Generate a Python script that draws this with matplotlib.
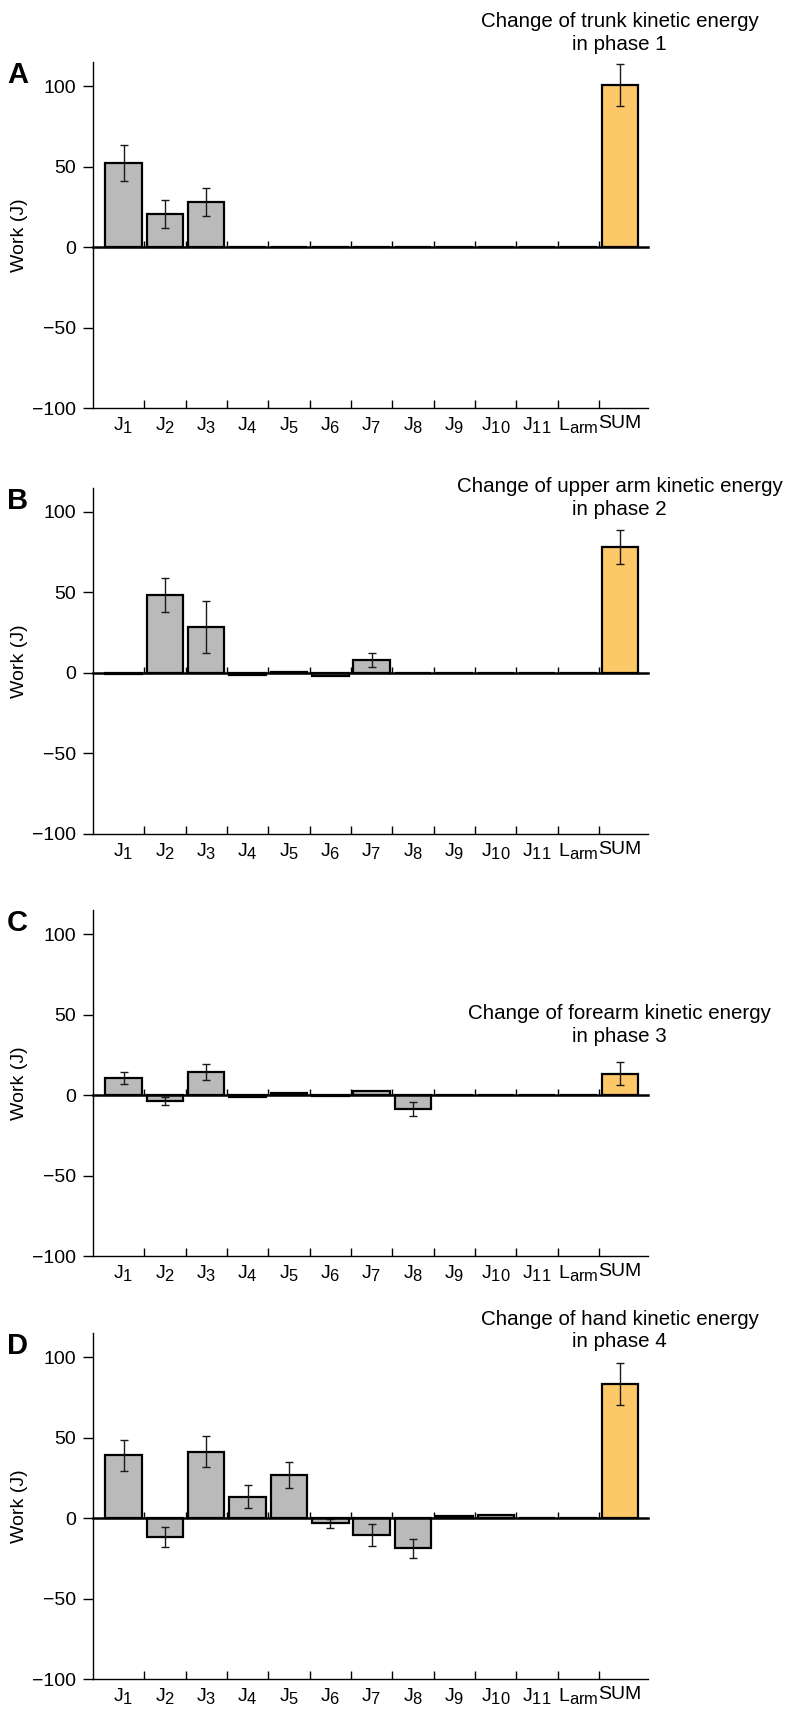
"""Joint work contributions to segment kinetic energy change, phases 1-4."""

import matplotlib
matplotlib.use("Agg")
import matplotlib._mathtext as mathtext_internals
import matplotlib.pyplot as plt
import numpy as np

plt.rcParams["font.family"] = ["Liberation Sans", "DejaVu Sans"]
plt.rcParams["mathtext.fontset"] = "custom"
plt.rcParams["mathtext.rm"] = "Liberation Sans"
plt.rcParams["mathtext.default"] = "regular"
# subscripts in the source figure are almost full size
mathtext_internals.SHRINK_FACTOR = 0.85

categories = ["J$_1$", "J$_2$", "J$_3$", "J$_4$", "J$_5$", "J$_6$", "J$_7$",
              "J$_8$", "J$_9$", "J$_{10}$", "J$_{11}$", "L$_{arm}$", "SUM"]

panel_letters = ["A", "B", "C", "D"]
notes = [
    "Change of trunk kinetic energy\nin phase 1",
    "Change of upper arm kinetic energy\nin phase 2",
    "Change of forearm kinetic energy\nin phase 3",
    "Change of hand kinetic energy\nin phase 4",
]

# mean work (J) per category, last value is SUM
work_a = [52.2, 20.5, 28.3, 0, 0, 0, 0, 0, 0, 0, 0, 0, 100.8]
work_b = [-0.5, 48.6, 28.7, -1.5, 0.8, -2.0, 8.3, 0, 0, 0, 0, 0, 78.2]
work_c = [10.4, -3.9, 14.4, -1.5, 1.0, -0.5, 2.6, -8.9, 0, 0, 0, 0, 13.2]
work_d = [38.9, -11.9, 41.3, 13.3, 26.8, -3.4, -10.3, -18.8, 1.0, 2.0, 0, 0, 83.0]

# standard deviations (nan = no error bar)
sd_a = [11.2, 8.7, 8.7, np.nan, np.nan, np.nan, np.nan, np.nan, np.nan, np.nan, np.nan, np.nan, 13.2]
sd_b = [np.nan, 10.6, 16.0, np.nan, np.nan, np.nan, 4.4, np.nan, np.nan, np.nan, np.nan, np.nan, 10.8]
sd_c = [3.8, 2.4, 5.1, np.nan, np.nan, np.nan, np.nan, 4.4, np.nan, np.nan, np.nan, np.nan, 7.1]
sd_d = [9.8, 6.2, 9.7, 6.9, 8.2, 2.7, 6.8, 5.8, np.nan, np.nan, np.nan, np.nan, 13.1]

works = [work_a, work_b, work_c, work_d]
sds = [sd_a, sd_b, sd_c, sd_d]
note_offsets = [7.0, 7.5, 12.0, 8.5]  # points above the SUM error bar

gray = "#bababa"
orange = "#fdc867"

# axes boxes in figure fractions
left, width = 0.1177, 0.7029
bottoms = [0.7614, 0.5126, 0.2659, 0.0187]
height = 0.2023

fig = plt.figure(figsize=(7.9, 17.11), dpi=100)

x = np.arange(len(categories))
bounds = x[:-1] + 0.5
colors = [gray] * (len(categories) - 1) + [orange]

for k in range(4):
    ax = fig.add_axes([left, bottoms[k], width, height])
    vals = np.array(works[k], dtype=float)
    err = np.array(sds[k], dtype=float)

    ax.bar(x, vals, width=0.88, color=colors, edgecolor="black", linewidth=1.6,
           zorder=2)
    ax.errorbar(x, vals, yerr=err, fmt="none", ecolor="#1a1a1a", elinewidth=1.0,
                capsize=2.6, capthick=1.0, zorder=3)

    ax.set_xlim(-0.74, 12.69)
    ax.set_ylim(-100, 115)
    ax.spines["top"].set_visible(False)
    ax.spines["right"].set_visible(False)
    ax.spines["left"].set_linewidth(1.0)
    ax.spines["bottom"].set_linewidth(1.0)

    ax.set_yticks([-100, -50, 0, 50, 100])
    ax.tick_params(axis="y", direction="out", length=7.5, width=1.0,
                   labelsize=14, pad=4.5)
    ax.set_xticks(x, categories)
    ax.tick_params(axis="x", which="major", length=0, labelsize=14, pad=5)
    ax.set_xticks(bounds, minor=True)
    ax.tick_params(axis="x", which="minor", direction="in", length=6, width=1.0)

    ax.set_ylabel("Work (J)", fontsize=14, labelpad=3)

    # zero line with small inward ticks at category boundaries
    ax0 = ax.twiny()
    ax0.set_xlim(ax.get_xlim())
    for side in ["top", "left", "right"]:
        ax0.spines[side].set_visible(False)
    ax0.spines["bottom"].set_position(("data", 0))
    ax0.spines["bottom"].set_linewidth(1.8)
    ax0.xaxis.set_ticks_position("bottom")
    ax0.set_xticks(bounds)
    ax0.tick_params(axis="x", direction="in", length=4, width=1.0,
                    labelbottom=False, labeltop=False)

    ax.text(-0.155, 0.939, panel_letters[k], transform=ax.transAxes,
            fontsize=21, fontweight="bold", va="baseline", ha="left")

    top = vals[-1] + (0 if np.isnan(err[-1]) else err[-1])
    ax.annotate(notes[k], xy=(x[-1], top), xytext=(0, note_offsets[k]),
                textcoords="offset points", ha="center", va="bottom",
                fontsize=14.8, linespacing=1.25)

fig.savefig("out.png", dpi=100)
